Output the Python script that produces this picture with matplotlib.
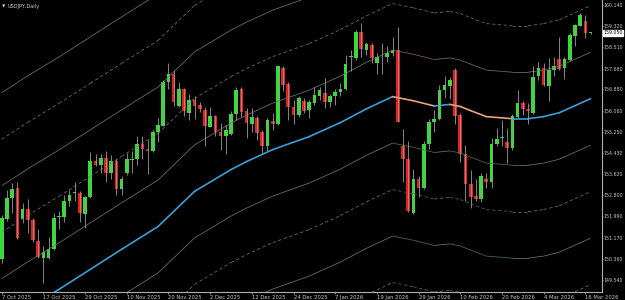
import numpy as np
import matplotlib
matplotlib.use("Agg")
import matplotlib.pyplot as plt

# daily candles, USDJPY, 7 Oct 2025 .. 17 Mar 2026
opens = [150.36, 151.87, 152.68, 153.09, 151.87, 152.28, 151.85, 151.04, 150.40, 150.40,
         150.72, 151.97, 151.97, 152.58, 152.88, 152.90, 152.10, 152.74, 154.14, 153.98,
         154.25, 153.66, 154.14, 153.05, 153.66, 154.15, 154.18, 154.79, 154.59, 154.50,
         155.24, 155.48, 157.15, 157.48, 156.25, 156.89, 155.97, 156.48, 156.27, 156.10,
         155.43, 155.87, 155.23, 155.07, 155.17, 155.93, 156.89, 156.03, 155.56, 155.78,
         155.24, 154.71, 155.67, 155.56, 157.70, 157.08, 156.20, 155.90, 156.45, 156.07,
         156.35, 156.61, 156.74, 156.38, 156.61, 156.76, 156.89, 158.12, 158.08, 159.10,
         158.40, 158.57, 157.91, 158.11, 158.14, 158.27, 158.40, 154.69, 154.18, 152.13,
         153.41, 153.09, 154.79, 155.61, 155.74, 156.84, 157.02, 157.61, 155.90, 154.41,
         153.25, 152.77, 152.64, 153.43, 153.31, 154.79, 155.00, 154.84, 154.62, 155.81,
         156.35, 156.12, 155.97, 157.38, 157.70, 157.02, 157.61, 158.04, 157.70, 158.02,
         158.94, 159.32, 159.53, 159.04]
highs = [152.06, 153.02, 153.28, 153.31, 152.49, 152.64, 151.94, 151.49, 150.85, 151.21,
         152.13, 152.19, 152.83, 153.02, 153.31, 152.96, 152.77, 154.46, 154.41, 154.41,
         154.50, 154.37, 154.18, 153.54, 154.43, 154.50, 155.07, 155.07, 154.94, 155.33,
         155.78, 157.25, 157.91, 157.63, 157.18, 156.93, 156.71, 156.61, 156.38, 156.20,
         156.20, 155.90, 155.58, 155.52, 156.03, 156.97, 156.97, 156.16, 156.16, 155.84,
         155.33, 155.78, 155.97, 157.79, 157.79, 157.15, 156.48, 156.63, 156.54, 156.48,
         156.97, 156.97, 157.31, 156.71, 156.89, 157.12, 158.21, 158.40, 159.17, 159.42,
         158.72, 158.68, 158.27, 158.68, 158.53, 158.89, 159.27, 155.35, 154.88, 153.82,
         153.56, 154.88, 155.74, 156.07, 157.06, 157.40, 157.35, 157.70, 155.97, 154.75,
         153.77, 153.41, 153.66, 153.66, 155.01, 155.39, 155.69, 155.39, 155.94, 156.84,
         156.45, 156.35, 157.76, 157.95, 157.89, 158.08, 158.14, 158.91, 158.14, 159.04,
         159.40, 159.81, 159.74, 159.09]
lows = [150.21, 151.80, 152.13, 151.13, 151.72, 151.36, 151.00, 150.40, 149.41, 150.36,
        150.69, 151.49, 151.77, 152.38, 152.58, 151.77, 151.55, 152.70, 153.92, 153.66,
        153.31, 153.41, 152.83, 152.83, 153.60, 153.66, 153.98, 154.20, 153.64, 154.46,
        154.84, 155.46, 156.89, 156.22, 156.20, 155.87, 155.69, 155.74, 155.99, 154.69,
        155.42, 155.07, 154.56, 154.41, 155.14, 155.71, 155.81, 155.01, 155.23, 154.94,
        154.43, 154.50, 155.33, 155.52, 156.80, 155.69, 155.56, 155.81, 155.97, 155.78,
        156.29, 156.48, 156.16, 156.20, 156.29, 156.61, 156.86, 157.57, 158.02, 158.14,
        158.21, 157.89, 157.48, 157.48, 157.95, 158.17, 155.61, 153.31, 152.15, 152.10,
        152.74, 153.05, 154.59, 155.23, 155.71, 156.53, 156.51, 155.56, 154.07, 152.58,
        152.32, 152.58, 152.54, 153.09, 153.09, 154.69, 154.71, 154.05, 154.53, 155.78,
        155.90, 155.56, 155.94, 157.25, 157.02, 156.45, 157.40, 157.61, 157.27, 157.99,
        158.55, 159.30, 158.85, 159.01]
closes = [151.94, 152.68, 153.06, 151.17, 152.28, 151.85, 151.08, 150.44, 150.62, 150.75,
          151.94, 151.99, 152.58, 152.83, 152.90, 152.13, 152.74, 154.14, 153.98, 154.25,
          153.66, 154.14, 153.05, 153.41, 154.18, 154.17, 154.79, 154.59, 154.50, 155.24,
          155.51, 157.15, 157.48, 156.38, 156.89, 156.03, 156.48, 156.25, 156.13, 155.46,
          155.87, 155.23, 155.07, 155.33, 155.93, 156.86, 155.99, 155.58, 155.81, 155.20,
          154.71, 155.69, 155.56, 157.76, 157.06, 156.20, 155.90, 156.54, 156.03, 156.38,
          156.67, 156.84, 156.38, 156.63, 156.76, 156.89, 157.86, 158.14, 159.08, 158.43,
          158.63, 158.08, 158.12, 158.13, 158.27, 158.40, 155.62, 154.18, 152.19, 153.43,
          153.09, 154.79, 155.61, 155.74, 156.84, 157.06, 157.25, 155.84, 154.41, 153.25,
          152.74, 152.67, 153.54, 153.31, 154.79, 154.97, 155.02, 154.62, 155.84, 156.35,
          156.12, 156.03, 157.35, 157.70, 157.06, 157.61, 157.76, 157.66, 158.04, 158.98,
          159.36, 159.74, 159.04, 159.05]

# moving average at some bars
ma_idx = [0, 5, 11, 17, 23, 30, 37, 44, 47, 52, 59, 65, 70, 75, 79, 83, 86, 88, 90, 93,
          98, 101, 104, 107, 110, 113]
ma_val = [147.80, 148.45, 149.18, 149.95, 150.72, 151.60, 152.95, 153.79, 154.10, 154.56,
          155.06, 155.60, 156.13, 156.60, 156.44, 156.24, 156.30, 156.22, 156.06, 155.83,
          155.75, 155.75, 155.83, 155.98, 156.25, 156.52]
band_step = 1.79  # distance between envelope lines

date_labels = ["7 Oct 2025", "17 Oct 2025", "29 Oct 2025", "10 Nov 2025", "20 Nov 2025",
               "2 Dec 2025", "12 Dec 2025", "24 Dec 2025", "7 Jan 2026", "19 Jan 2026",
               "29 Jan 2026", "10 Feb 2026", "20 Feb 2026", "4 Mar 2026", "16 Mar 2026"]
price_ticks = [160.140, 159.320, 158.510, 157.680, 156.880, 156.060, 155.250, 154.430,
               153.620, 152.800, 151.990, 151.170, 150.360, 149.540]
last_price = 159.050

o = np.array(opens); h = np.array(highs); l = np.array(lows); c = np.array(closes)
x = np.arange(len(o))

fig = plt.figure(figsize=(6.25, 3), dpi=100, facecolor="black")
ax = fig.add_axes([0, 0.026, 0.9632, 0.974], facecolor="black")

# envelope lines
for k in range(1, 6):
    ls = "-" if k % 2 else (0, (4, 3))
    for sign, fall_col in ((1, "#7a5e48"), (-1, "#3d6b3d")):
        for a in range(len(ma_idx) - 1):
            b = a + 1
            col = "#6a6a6a" if ma_val[b] >= ma_val[a] else fall_col
            ax.plot([ma_idx[a], ma_idx[b]],
                    [ma_val[a] + sign * k * band_step, ma_val[b] + sign * k * band_step],
                    color=col, lw=0.6, ls=ls, solid_capstyle="butt")

# MA, blue when rising, orange when falling
for a in range(len(ma_idx) - 1):
    col = "#3a9fd6" if ma_val[a + 1] >= ma_val[a] else "#e9a27a"
    ax.plot(ma_idx[a:a + 2], ma_val[a:a + 2], color=col, lw=1.2, solid_capstyle="round")

# candles
up = c >= o
ax.vlines(x, l, h, color="#9a9a9a", lw=0.6)
body_lo = np.minimum(o, c)
body_h = np.maximum(np.abs(c - o), 0.03)
ax.bar(x, body_h, bottom=body_lo, width=0.7, color=np.where(up, "#27e527", "#e3221f"), lw=0)

ax.set_xlim(-0.33, 115.2)
ax.set_ylim(149.07, 160.32)

ax.set_xticks(np.arange(len(date_labels)) * 8)
ax.set_xticklabels(date_labels, ha="left", fontsize=3.8, color="#c8c8c8")
ax.yaxis.tick_right()
ax.set_yticks(price_ticks)
ax.set_yticklabels(["%.3f" % p for p in price_ticks], fontsize=3.4, color="#c8c8c8")
ax.tick_params(axis="x", length=1.2, pad=0.6, color="#9a9a9a", width=0.6)
ax.tick_params(axis="y", length=1.0, pad=0.4, color="#9a9a9a", width=0.6)
for s in ("top", "left"):
    ax.spines[s].set_visible(False)
for s in ("right", "bottom"):
    ax.spines[s].set_color("#b0b0b0")
    ax.spines[s].set_linewidth(0.8)

ax.text(0.004, 0.983, "\u25bc", transform=ax.transAxes, fontsize=3.2,
        color="#d0d0d0", va="top", ha="left")
ax.text(0.013, 0.985, "USDJPY,Daily", transform=ax.transAxes, fontsize=3.6,
        color="#d0d0d0", va="top", ha="left")
ax.annotate("%.3f" % last_price, xy=(1.0, last_price), xycoords=("axes fraction", "data"),
            xytext=(1.0, 0), textcoords="offset points", fontsize=3.4, color="black",
            va="center", ha="left",
            bbox=dict(boxstyle="square,pad=0.12", fc="white", ec="white"))

fig.savefig("out.png", dpi=100, facecolor="black")
